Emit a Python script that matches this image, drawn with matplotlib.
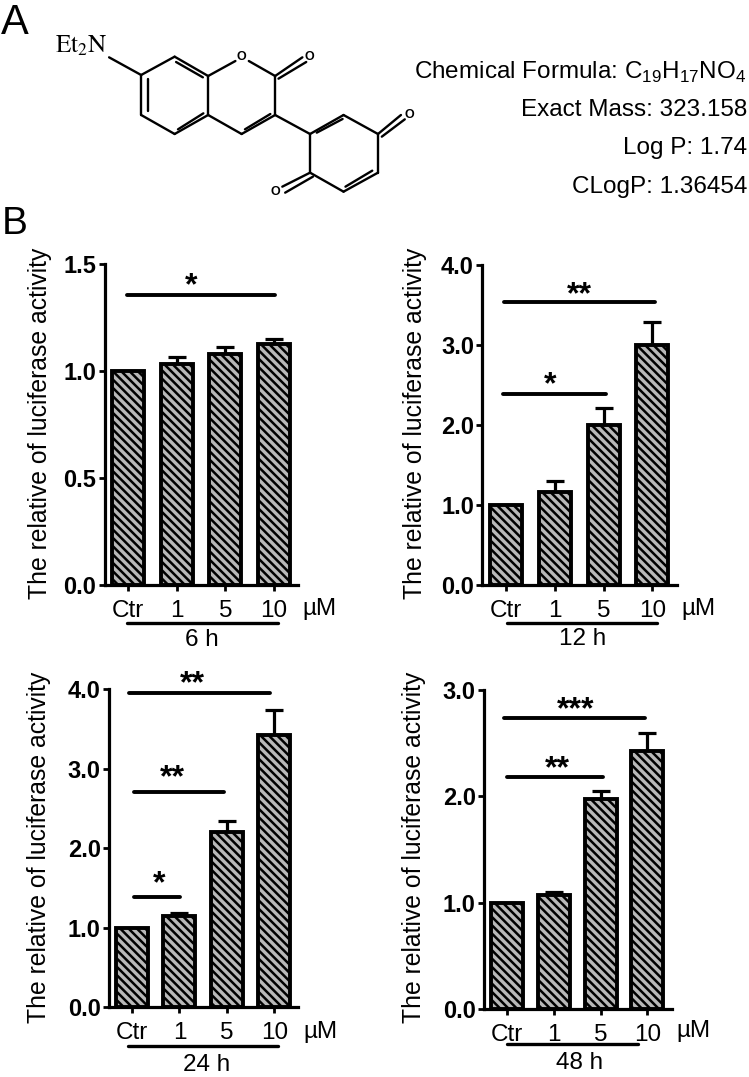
import matplotlib
matplotlib.use("Agg")
import matplotlib.pyplot as plt
import numpy as np

plt.rcParams['font.family'] = ['Liberation Sans', 'DejaVu Sans']
plt.rcParams['mathtext.fontset'] = 'custom'
plt.rcParams['mathtext.rm'] = 'Liberation Sans'
plt.rcParams['hatch.linewidth'] = 1.8

W, H = 749, 1077

doses = ['Ctr', '1', '5', '10']

means_6h = [1.0, 1.034, 1.08, 1.125]
tops_6h = [1.0, 1.065, 1.115, 1.15]
means_12h = [1.0, 1.167, 2.0, 3.0]
tops_12h = [1.0, 1.30, 2.21, 3.29]
means_24h = [1.0, 1.15, 2.2, 3.42]
tops_24h = [1.0, 1.19, 2.34, 3.74]
means_48h = [1.0, 1.07, 1.98, 2.43]
tops_48h = [1.0, 1.10, 2.05, 2.60]

ticks_6h = [0.0, 0.5, 1.0, 1.5]
ticks_12h = [0.0, 1.0, 2.0, 3.0, 4.0]
ticks_24h = [0.0, 1.0, 2.0, 3.0, 4.0]
ticks_48h = [0.0, 1.0, 2.0, 3.0]

info_lines = ['Chemical Formula: C$_{19}$H$_{17}$NO$_{4}$', 'Exact Mass: 323.158', 'Log P: 1.74', 'CLogP: 1.36454']
info_y = [72, 110, 148, 187]

# panel layout in image pixels
panels = [
    dict(means=means_6h, tops=tops_6h, ticks=ticks_6h, name='6 h',
         left=104.5, right=298, top=264.3, base=585, first=128.3, last=274,
         um=(319, 609), under=(127, 278, 623), hours=(202, 640), ylab=(40, 423),
         sig=[(127, 275, 295.3, '*', 190.7, 281.7)]),
    dict(means=means_12h, tops=tops_12h, ticks=ticks_12h, name='12 h',
         left=482.3, right=677, top=265, base=585, first=506, last=652.3,
         um=(698, 609), under=(507, 657, 623), hours=(583, 639), ylab=(415, 423),
         sig=[(504, 655, 302.3, '**', 579, 290), (503, 606, 394.3, '*', 550, 380.7)]),
    dict(means=means_24h, tops=tops_24h, ticks=ticks_24h, name='24 h',
         left=109, right=298, top=689.3, base=1007.3, first=132, last=274.3,
         um=(320, 1032), under=(128, 278, 1045.7), hours=(207, 1065), ylab=(39, 847),
         sig=[(129, 270, 693.3, '**', 192.7, 679), (134, 224, 792.3, '**', 172, 773),
              (134, 180, 896.7, '*', 159, 879)]),
    dict(means=means_48h, tops=tops_48h, ticks=ticks_48h, name='48 h',
         left=484, right=672, top=690, base=1009.3, first=507, last=647.3,
         um=(693, 1031), under=(507, 638, 1044), hours=(580, 1063), ylab=(414, 847),
         sig=[(504, 645, 718.3, '***', 575.7, 705), (507, 603, 777, '**', 557, 764)]),
]

fig = plt.figure(figsize=(W / 100, H / 100), dpi=100)

# overlay in pixel coordinates for the structure and annotations
over = fig.add_axes([0, 0, 1, 1], zorder=5)
over.set_xlim(0, W)
over.set_ylim(H, 0)
over.axis('off')


def px(p):
    return p[0] / 2.09, p[1] / 3.0


def bond(a, b, lw=1.7):
    a, b = px(a), px(b)
    over.plot([a[0], b[0]], [a[1], b[1]], color='black', lw=lw, solid_capstyle='round')


c7, c8, c8a, c4a, c5, c6 = (295, 225), (365, 170), (435, 228), (435, 345), (365, 402), (295, 345)
o1, c2, c3, c4 = (505, 172), (575, 228), (575, 345), (505, 402)
q1, q2, q3, q4, q5, q6 = (648, 402), (718, 345), (790, 402), (790, 518), (718, 575), (648, 518)

for a, b in [(c7, c8), (c8, c8a), (c8a, c4a), (c4a, c5), (c5, c6), (c6, c7),
             (c8a, (492, 183)), ((520, 183), c2), (c2, c3), (c3, c4), (c4, c4a),
             ((228, 172), c7), (c3, q1), (q1, q2), (q2, q3), (q3, q4), (q4, q5), (q5, q6), (q6, q1)]:
    bond(a, b)
# inner lines of double bonds
for a, b in [((310, 238), (310, 333)), ((368, 186), (424, 232)), ((372, 388), (425, 340)),
             ((512, 388), (565, 342)), ((662, 398), (716, 357)), ((722, 560), (778, 512)),
             (c2, (632, 172)), ((582, 236), (640, 186)), (q3, (838, 345)), ((798, 410), (846, 358)),
             (q6, (590, 560)), ((654, 530), (596, 578))]:
    bond(a, b)

for pos in [o1, (647, 171), (856, 345), (575, 577)]:
    x, y = px(pos)
    over.text(x, y, 'O', ha='center', va='center', fontsize=9, fontweight='bold')
over.text(55, 46, r'$\mathrm{Et_2N}$', fontsize=18, math_fontfamily='stix', ha='left', va='center')

over.text(1, 34, 'A', fontsize=30, ha='left', va='baseline')
over.text(2, 234, 'B', fontsize=28, ha='left', va='baseline')

for line, y in zip(info_lines, info_y):
    over.text(747, y, line, fontsize=17.5, ha='right', va='center')

for p in panels:
    ax = fig.add_axes([p['left'] / W, 1 - p['base'] / H,
                       (p['right'] - p['left']) / W, (p['base'] - p['top']) / H])
    step = (p['last'] - p['first']) / 3
    xs = np.arange(len(doses))
    ax.set_xlim((p['left'] - p['first']) / step, (p['right'] - p['first']) / step)
    ax.set_ylim(0, p['ticks'][-1])

    means = np.array(p['means'])
    errs = np.array(p['tops']) - means
    ax.errorbar(xs, means, yerr=[np.zeros(4), errs], fmt='none', ecolor='black',
                elinewidth=2.3, capsize=6.5, capthick=2.3, zorder=1)
    ax.bar(xs, means, width=32 / step, facecolor='#b8b8b8', edgecolor='black',
           linewidth=2.8, hatch='\\\\\\\\', zorder=2)

    for side in ['top', 'right']:
        ax.spines[side].set_visible(False)
    ax.spines['left'].set_linewidth(2.3)
    ax.spines['bottom'].set_linewidth(2.3)
    ax.tick_params(axis='both', width=2.0, length=4.5, pad=1.5)
    ax.set_xticks(xs)
    ax.set_xticklabels(doses, fontsize=17.5)
    ax.tick_params(axis='x', pad=6)
    ax.set_yticks(p['ticks'])
    ax.set_yticklabels([f'{t:.1f}' for t in p['ticks']], fontsize=17, fontweight='bold')

    over.text(p['ylab'][0], p['ylab'][1], 'The relative of luciferase activity',
              rotation=90, fontsize=17.8, ha='center', va='center')
    over.text(p['um'][0], p['um'][1], 'µM', fontsize=17.5, ha='center', va='center')
    u = p['under']
    over.plot([u[0], u[1]], [u[2], u[2]], color='black', lw=2.4, solid_capstyle='round')
    over.text(p['hours'][0], p['hours'][1], p['name'], fontsize=17.5, ha='center', va='center')
    for x0, x1, y, stars, sx, sy in p['sig']:
        over.plot([x0, x1], [y, y], color='black', lw=2.8, solid_capstyle='round')
        over.text(sx, sy + 5, stars, fontsize=23, fontweight='bold', ha='center', va='center')

fig.savefig('out.png', dpi=100)
